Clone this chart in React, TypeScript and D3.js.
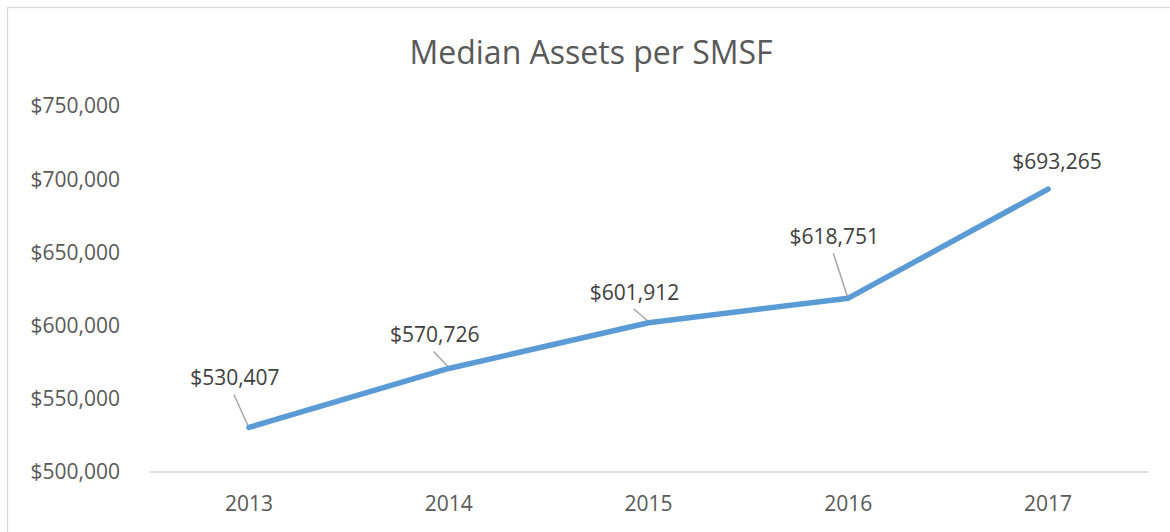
import React, { useEffect, useRef } from 'react';
import * as d3 from 'd3';

// chart data
const years = ['2013', '2014', '2015', '2016', '2017'];
const medianAssets = [530407, 570726, 601912, 618751, 693265];
const yTicks = [500000, 550000, 600000, 650000, 700000, 750000];

// label placement relative to each point (dx, dy of baseline), leader shown or not
const labelOffsets = [
  { dx: -14, dy: -42, leader: true },
  { dx: -14, dy: -26, leader: true },
  { dx: -14, dy: -23, leader: true },
  { dx: -14, dy: -54, leader: true },
  { dx: 9, dy: -20, leader: false },
];

const W = 1170;
const H = 532;
const FONT = '"Open Sans", "Noto Sans", sans-serif';

const App = () => {
  const svgRef = useRef<SVGSVGElement>(null);

  useEffect(() => {
    document.body.style.margin = '0';
    const svg = d3.select(svgRef.current);
    svg.selectAll('*').remove();

    const plot = { left: 149, right: 1148, top: 106, bottom: 472 };

    const x = d3.scaleBand().domain(years).range([plot.left, plot.right]);
    const y = d3.scaleLinear().domain([500000, 750000]).range([plot.bottom, plot.top]);
    const fmt = (v: number) => '$' + d3.format(',')(v);

    // chart area border
    svg.append('rect')
      .attr('x', 7.5).attr('y', 7.5)
      .attr('width', W + 20).attr('height', H + 20)
      .attr('fill', 'white')
      .attr('stroke', '#D9D9D9').attr('stroke-width', 1.3);

    // title
    svg.append('text')
      .attr('x', 591).attr('y', 64)
      .attr('text-anchor', 'middle')
      .attr('font-family', FONT).attr('font-size', 32)
      .attr('fill', '#595959')
      .text('Median Assets per SMSF');

    // y axis labels
    svg.append('g').selectAll('text').data(yTicks).join('text')
      .attr('x', 120).attr('y', d => y(d))
      .attr('dy', '0.35em')
      .attr('text-anchor', 'end')
      .attr('font-family', FONT).attr('font-size', 21)
      .attr('fill', '#595959')
      .text(d => fmt(d));

    // baseline
    svg.append('line')
      .attr('x1', plot.left).attr('x2', plot.right)
      .attr('y1', y(500000)).attr('y2', y(500000))
      .attr('stroke', '#D9D9D9').attr('stroke-width', 1.5);

    // x labels
    svg.append('g').selectAll('text').data(years).join('text')
      .attr('x', d => x(d)! + x.bandwidth() / 2).attr('y', 511)
      .attr('text-anchor', 'middle')
      .attr('font-family', FONT).attr('font-size', 21)
      .attr('fill', '#595959')
      .text(d => d);

    const pts = years.map((yr, i) => ({
      px: x(yr)! + x.bandwidth() / 2,
      py: y(medianAssets[i]),
      v: medianAssets[i],
      off: labelOffsets[i],
    }));

    // leader lines
    svg.append('g').selectAll('line').data(pts.filter(p => p.off.leader)).join('line')
      .attr('x1', p => p.px - 1).attr('y1', p => p.py - 2)
      .attr('x2', p => p.px + p.off.dx - 1)
      .attr('y2', p => p.py + p.off.dy + 9)
      .attr('stroke', '#A6A6A6').attr('stroke-width', 1.5);

    // line
    const line = d3.line<typeof pts[0]>().x(p => p.px).y(p => p.py);
    svg.append('path')
      .datum(pts)
      .attr('fill', 'none')
      .attr('stroke', '#5B9BD5')
      .attr('stroke-width', 5.5)
      .attr('stroke-linecap', 'round')
      .attr('stroke-linejoin', 'round')
      .attr('d', line);

    // data labels
    svg.append('g').selectAll('text').data(pts).join('text')
      .attr('x', p => p.px + p.off.dx)
      .attr('y', p => p.py + p.off.dy)
      .attr('text-anchor', 'middle')
      .attr('font-family', FONT).attr('font-size', 21)
      .attr('fill', '#404040')
      .text(p => fmt(p.v));
  }, []);

  return <svg ref={svgRef} width={W} height={H} style={{ display: 'block' }}></svg>;
};

export default App;
